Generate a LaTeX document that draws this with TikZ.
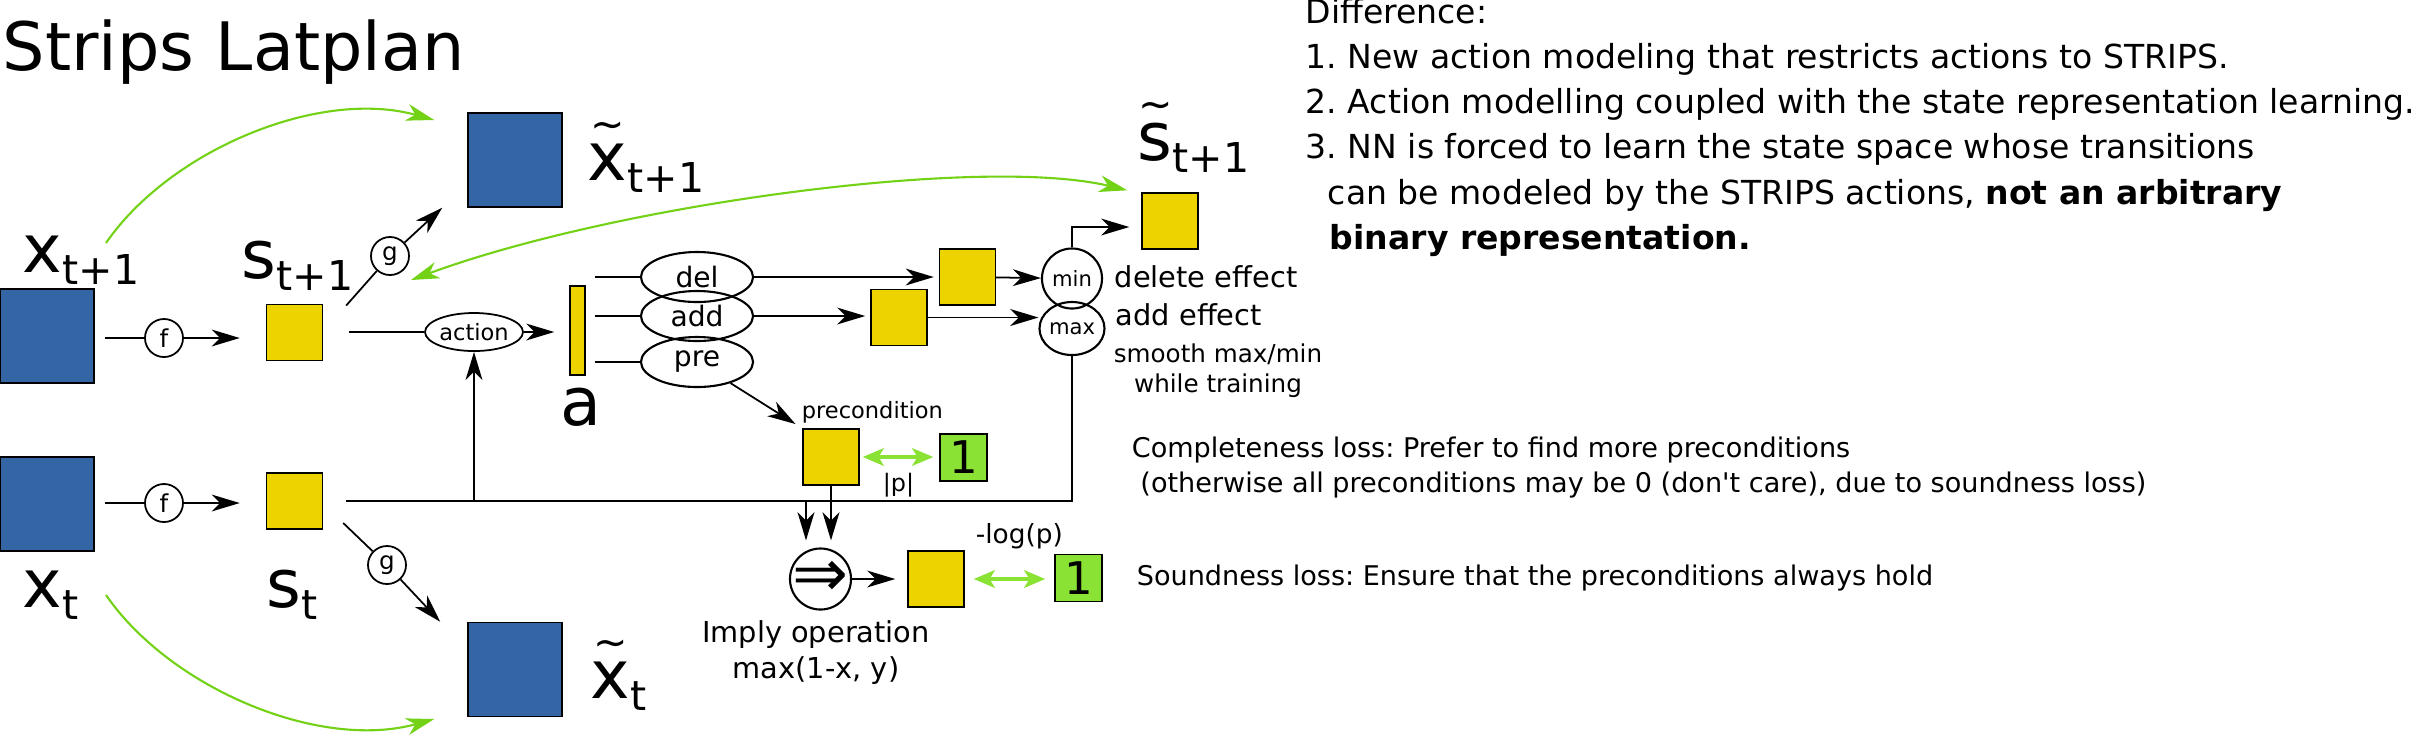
\documentclass[tikz,border=0pt]{standalone}
\usepackage{fontspec}
\setmainfont{DejaVu Sans}
\usetikzlibrary{arrows.meta,shapes.geometric}
\definecolor{imgblue}{HTML}{3465A4}
\definecolor{latyellow}{HTML}{EDD400}
\definecolor{onegreen}{HTML}{8AE234}
\definecolor{recgreen}{HTML}{73D216}
\newcommand\subtxt[2]{#1\raisebox{-0.12cm}{\fontsize{11.7}{12}\selectfont #2}}
\newcommand\tld[1]{\ooalign{#1\cr\hidewidth\raisebox{0.62em}{\fontsize{11.7}{12}\selectfont\textasciitilde}\hidewidth\cr}}
\frenchspacing

\begin{document}
\begin{tikzpicture}[x=0.01cm, y=-0.01cm, line width=0.5pt,
        >={Stealth[length=8pt,width=4.8pt,inset=2.4pt]},
        img/.style={draw, line width=0.4pt, fill=imgblue, minimum size=0.94cm, inner sep=0pt},
        lat/.style={draw, line width=0.4pt, fill=latyellow, minimum size=0.56cm, inner sep=0pt},
        one/.style={draw, line width=0.4pt, fill=onegreen, minimum size=0.47cm, inner sep=0pt, font=\fontsize{12.8}{14}\selectfont},
        fn/.style={draw, circle, minimum size=0.38cm, inner sep=0pt, font=\fontsize{7}{8}\selectfont},
        op/.style={draw, ellipse, line width=0.6pt, minimum width=1.12cm, minimum height=0.5cm, inner sep=0pt, font=\fontsize{8}{9}\selectfont},
        big/.style={anchor=base west, inner sep=0pt, font=\fontsize{19}{22}\selectfont},
        txt/.style={anchor=base west, inner sep=0pt, font=\fontsize{8.2}{10}\selectfont},
        note/.style={anchor=base west, inner sep=0pt, align=left, font=\fontsize{7.7}{9.7}\selectfont},
        recon/.style={recgreen, line width=0.6pt},
        loss/.style={<->, onegreen, line width=1pt, >={Stealth[length=6pt,width=5pt,inset=1.5pt]}},
    ]
    \useasboundingbox (0,0) rectangle (2420,738);
    %\draw[help lines,step=100] (0,0) grid (2420,738);

    \node[big] (title) at (2,70) {Strips Latplan};

    % observations and reconstructions
    \node[img] (xt1) at (47,336) {};
    \node[img] (xt) at (47,504) {};
    \node[img] (xr1) at (515,160) {};
    \node[img] (xr) at (515,669.5) {};
    \node[big] (xt1lbl) at (22,272) {\subtxt{x}{t+1}};
    \node[big] (xtlbl) at (22,607) {\subtxt{x}{t}};
    \node[big] (xr1lbl) at (587,180) {\subtxt{\tld{x}}{t+1}};
    \node[big] (xrlbl) at (590,698) {\subtxt{\tld{x}}{t}};

    % latent states
    \node[lat] (st1) at (294.5,332.5) {};
    \node[lat] (st) at (294.5,501) {};
    \node[big] (st1lbl) at (241,278) {\subtxt{s}{t+1}};
    \node[big] (stlbl) at (266,607) {\subtxt{s}{t}};

    \node[fn] (f1) at (164,338) {f};
    \node[fn] (f0) at (164,503) {f};
    \node[fn] (g1) at (390,256) {g};
    \node[fn] (g0) at (387,565) {g};
    \node[fn, ellipse, minimum width=0.84cm, font=\fontsize{6.4}{7}\selectfont] (act) at (474,332) {action};

    % action and effects
    \node[lat, minimum width=0.15cm, minimum height=0.89cm] (abar) at (577.5,330.5) {};
    \node[big] (albl) at (560,425) {a};
    \node[op] (delE) at (697,277) {del};
    \node[op] (addE) at (697,316) {add};
    \node[op] (preE) at (697,362) {pre};
    \node[lat] (delbox) at (967.5,277) {};
    \node[lat] (addbox) at (899,317.5) {};
    \node[fn, minimum size=0.6cm, line width=0.6pt, font=\fontsize{6}{7}\selectfont] (minC) at (1072,278.5) {min};
    \node[fn, ellipse, minimum width=0.61cm, minimum height=0.53cm, line width=0.6pt, font=\fontsize{6}{7}\selectfont] (maxC) at (1072,328.5) {max};
    \node[lat] (sr1) at (1170,221) {};
    \node[big] (sr1lbl) at (1137,160) {\subtxt{\tld{s}}{t+1}};
    \node[txt] (deltxt) at (1114,287) {delete effect};
    \node[txt] (addtxt) at (1115,325) {add effect};
    \node[anchor=base, inner sep=0pt, align=center, font=\fontsize{7}{8.5}\selectfont] (smooth) at (1218,392) {smooth max/min\\while training};

    % preconditions and losses
    \node[lat] (prebox) at (831,457) {};
    \node[anchor=base west, inner sep=0pt, font=\fontsize{6.4}{7}\selectfont] (pretxt) at (801,418) {precondition};
    \node[one] (one1) at (963.5,457.5) {1};
    \node[anchor=base west, inner sep=0pt, font=\fontsize{6.8}{8}\selectfont] (abstxt) at (882,491) {|p|};
    \node[fn, minimum size=0.61cm, line width=0.6pt] (implyC) at (820.5,579) {};
    \node[inner sep=0pt, font=\fontsize{19}{20}\selectfont] (implysym) at (implyC) {⇒};
    \node[anchor=base, inner sep=0pt, align=center, font=\fontsize{8.2}{10}\selectfont] (implytxt) at (816,678) {Imply operation\\max(1-x, y)};
    \node[lat] (implbox) at (936,579) {};
    \node[one] (one2) at (1078.5,578) {1};
    \node[anchor=base west, inner sep=0pt, font=\fontsize{7.5}{8}\selectfont] (logtxt) at (975,543) {-log(p)};

    \node[note] (compl) at (1131,492) {Completeness loss: Prefer to find more preconditions\\\ (otherwise all preconditions may be 0 (don\textquotesingle t care), due to soundness loss)};
    \node[note] (sound) at (1136,585) {Soundness loss: Ensure that the preconditions always hold};
    \node[anchor=base west, inner sep=0pt, align=left, font=\fontsize{9.4}{12.8}\selectfont] (diff) at (1305,249) {Difference:\\1. New action modeling that restricts actions to STRIPS.\\2. Action modelling coupled with the state representation learning.\\3. NN is forced to learn the state space whose transitions\\\hspace{0.22cm}can be modeled by the STRIPS actions, \textbf{not an arbitrary}\\\hspace{0.24cm}\textbf{binary representation.}};

    % encoder / decoder
    \draw[shorten <=0.1cm] (xt1.east |- f1) -- (f1);
    \draw[->, shorten >=0.26cm] (f1) -- (f1 -| st1.west);
    \draw[shorten <=0.1cm] (xt.east |- f0) -- (f0);
    \draw[->, shorten >=0.26cm] (f0) -- (f0 -| st.west);
    \draw ([shift={(23,-27)}]st1.east) -- (g1);
    \draw[->] (g1) -- ([xshift=-0.25cm]xr1.south west);
    \draw ([shift={(20,22)}]st.east) -- (g0);
    \draw[->] (g0) -- ([xshift=-0.27cm]xr.north west);

    % action
    \draw[shorten <=0.26cm] (st1.east |- act) -- (act);
    \draw[->, shorten >=0.15cm] (act) -- (act -| abar.west);
    \draw (maxC.south) |- ([xshift=0.23cm]st.east);
    \draw[->] (act |- st) -- (act);
    \foreach \e in {delE,addE,preE}
        \draw[shorten <=0.09cm] (abar.east |- \e) -- (\e);
    \draw[->, shorten >=0.05cm] (delE) -- (delE -| delbox.west);
    \draw[->, shorten >=0.05cm] (addE) -- (addE -| addbox.west);
    \draw[->] (delbox) -- (minC);
    \draw[->] (addbox.east) -- (addbox.east -| maxC.west);
    \draw[->, shorten >=0.12cm] (minC.north) |- ([yshift=-0.06cm]sr1.west);

    % precondition
    \draw[->, shorten >=0.08cm] (preE) -- (prebox.north west);
    \coordinate (imin) at ([xshift=-0.145cm]implyC.north);
    \draw[->, shorten >=0.07cm] (prebox.south) -- (prebox.south |- implyC.north);
    \draw[->, shorten >=0.07cm] (imin |- st) -- (imin);
    \draw[->, shorten >=0.12cm] (implyC) -- (implbox);
    \draw[loss, shorten <=0.03cm, shorten >=0.06cm] (prebox) -- (prebox -| one1.west);
    \draw[loss, shorten <=0.09cm, shorten >=0.09cm] (implbox) -- (implbox -| one2.west);

    % reconstruction targets
    \coordinate (rec1a) at ([shift={(84,-29)}]xt1lbl.base west);
    \coordinate (rec1b) at ([shift={(-33,-40)}]xr1.west);
    \coordinate (rec0a) at ([shift={(84,-12)}]xtlbl.base west);
    \coordinate (rec0b) at ([shift={(-33,49.5)}]xr.west);
    \coordinate (reca) at ([shift={(21,24)}]g1);
    \coordinate (recb) at ([shift={(-14,-2)}]sr1.north west);
    \draw[recon, ->] (rec1a) .. controls +(64,-93) and +(-115,-32) .. (rec1b);
    \draw[recon, ->] (rec0a) .. controls +(64,93) and +(-115,32) .. (rec0b);
    \draw[recon, <->] (reca) .. controls +(206,-76) and +(-146,-35) .. (recb);
\end{tikzpicture}
\end{document}
